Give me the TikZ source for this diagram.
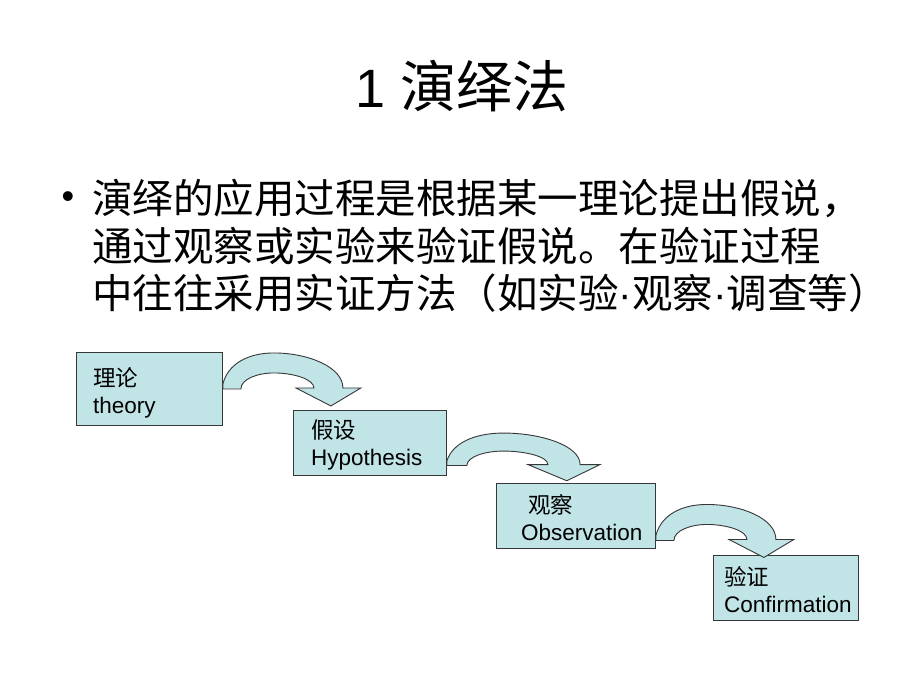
\documentclass[tikz,border=0pt]{standalone}
\usepackage{fontspec}
\setmainfont{Liberation Sans}
\newfontfamily\cjk{Noto Sans CJK SC}
\newfontfamily\latin{Liberation Sans}
\usetikzlibrary{calc}
\definecolor{boxfill}{RGB}{193,228,231}
\definecolor{edgegray}{RGB}{55,55,55}
% curved block arrow: start point, xscale, yscale
\newcommand{\bendarrow}[3]{%
\begin{scope}[shift={#1},xscale=#2,yscale=-#3]
\filldraw[arrowbody] (0,0) -- (18,0) .. controls (18,10) and (35,16) .. (51,16) .. controls (70,16) and (91,10) .. (91,1)
  -- (73,1) -- (108,-17) -- (138,1) -- (120,1) .. controls (120,22) and (85,36) .. (51,36) .. controls (25,36) and (5,25) .. (0,5) -- cycle;
\end{scope}}

\begin{document}
\begin{tikzpicture}[x=1pt,y=-1pt,
  stepbox/.style={draw=edgegray,fill=boxfill,line width=0.9pt,inner sep=0pt,anchor=north west},
  arrowbody/.style={draw=edgegray,fill=boxfill,line width=0.9pt,line join=miter},
  lbl/.style={align=left,inner sep=0pt,anchor=west,font=\fontsize{22.5}{27}\selectfont},
  bodyline/.style={anchor=base west,inner sep=0pt,font=\cjk\fontsize{40.5}{47}\selectfont}]
\useasboundingbox (0,0) rectangle (920,690);
\fill[white] (0,0) rectangle (920,690);
% title and text
\node[anchor=base,inner sep=0pt,font=\fontsize{54}{60}\selectfont] (title) at (462,108) {1 {\cjk\fontsize{56}{60}\selectfont 演绎法}};
\node[anchor=base,inner sep=0pt,font=\fontsize{36}{40}\selectfont] (dot) at (68,208) {•};
\node[bodyline] (l1) at (92,213) {演绎的应用过程是根据某一理论提出假说，};
\node[bodyline] (l2) at (92,261) {通过观察或实验来验证假说。在验证过程};
\node[bodyline] (l3) at (92,308) {中往往采用实证方法（如实验{\latin ·}观察{\latin ·}调查等）};
% boxes
\node[stepbox,minimum width=146pt,minimum height=73pt] (theory) at (76,352) {};
\node[stepbox,minimum width=153pt,minimum height=65pt] (hyp) at (293,410) {};
\node[stepbox,minimum width=159pt,minimum height=65pt] (obs) at (496,483) {};
\node[stepbox,minimum width=145pt,minimum height=65pt] (conf) at (713,555) {};
\node[lbl] (theoryt) at ([xshift=17pt,yshift=-4pt]theory.west) {{\cjk 理论}\\theory};
\node[lbl] (hypt) at ([xshift=18pt,yshift=-2pt]hyp.west) {{\cjk 假设}\\Hypothesis};
\node[lbl] (obst) at ([xshift=25pt,yshift=-2pt]obs.west) {\hspace*{7pt}{\cjk 观察}\\Observation};
\node[lbl] (conft) at ([xshift=11pt,yshift=-2pt]conf.west) {{\cjk 验证}\\Confirmation};
% arrows
\bendarrow{(theory.east)}{1}{1}
\bendarrow{($(hyp.east)+(0,22.5)$)}{1.11}{0.9}
\bendarrow{($(obs.east)+(0,24.5)$)}{1}{1}
\end{tikzpicture}
\end{document}
